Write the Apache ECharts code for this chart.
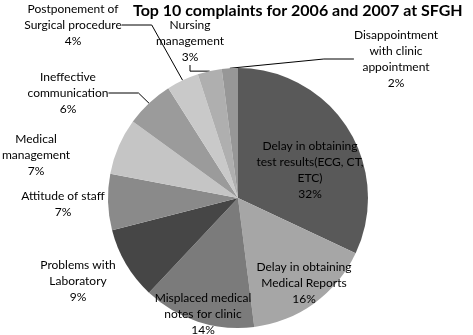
<!DOCTYPE html>
<html>
<head>
<meta charset="utf-8">
<script src="https://cdn.jsdelivr.net/npm/echarts@6/dist/echarts.min.js"></script>
<style>
  html, body { margin: 0; padding: 0; background: #fff; }
  #chart { width: 473px; height: 335px; }
</style>
</head>
<body>
<div id="chart"></div>
<script>
// complaint categories, clockwise from 12 o'clock
var categories = [
  'Delay in obtaining\ntest results(ECG, CT,\nETC)',
  'Delay in obtaining\nMedical Reports',
  'Misplaced medical\nnotes for clinic',
  'Problems with\nLaboratory',
  'Attitude of staff',
  'Medical\nmanagement',
  'Ineffective\ncommunication',
  'Postponement of\nSurgical procedure',
  'Nursing\nmanagement',
  'Disappointment\nwith clinic\nappointment'
];
// share of complaints, %
var shares = [32, 16, 14, 9, 7, 7, 6, 4, 3, 2];
var sliceColors = ['#595959', '#a6a6a6', '#7b7b7b', '#464646', '#8a8a8a',
  '#c5c5c5', '#9b9b9b', '#c9c9c9', '#afafaf', '#979797'];
// which labels get a leader line
var hasLeader = [false, false, false, false, false, false, true, true, true, true];
// label centres (x, y) like the original layout
var labelPos = [
  [310, 170], [304, 283], [203, 314], [78, 281], [63, 204],
  [36, 155], [68, 93], [73, 25], [190, 41], [396, 59]
];

var myChart = echarts.init(document.getElementById('chart'));

var option = {
  animation: false,
  title: {
    text: 'Top 10 complaints for 2006 and 2007 at SFGH',
    left: 128,
    top: -2,
    textStyle: {
      fontFamily: 'Lato',
      fontWeight: 'bold',
      fontSize: 16,
      color: '#000'
    }
  },
  series: [{
    type: 'pie',
    center: [238, 198],
    radius: 130,
    startAngle: 90,
    clockwise: true,
    avoidLabelOverlap: false,
    label: {
      show: true,
      position: 'outside',
      fontFamily: 'Lato',
      fontSize: 12,
      lineHeight: 16,
      color: '#000',
      align: 'center',
      formatter: function (p) {
        return p.name + '\n' + p.value + '%';
      }
    },
    labelLine: {
      lineStyle: { color: '#000', width: 1 }
    },
    labelLayout: function (params) {
      var pos = labelPos[params.dataIndex];
      return {
        x: pos[0],
        y: pos[1],
        align: 'center',
        verticalAlign: 'middle'
      };
    },
    data: categories.map(function (name, i) {
      return {
        name: name,
        value: shares[i],
        itemStyle: { color: sliceColors[i] },
        labelLine: { show: hasLeader[i] }
      };
    })
  }]
};

myChart.setOption(option);
</script>
</body>
</html>
